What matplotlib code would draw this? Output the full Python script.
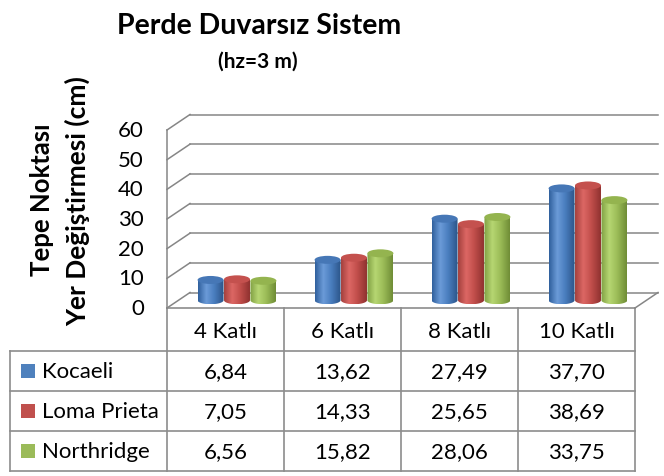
import numpy as np
import matplotlib
matplotlib.use('Agg')
import matplotlib.pyplot as plt
from matplotlib.patches import Ellipse, PathPatch, Rectangle
from matplotlib.path import Path
from matplotlib.colors import LinearSegmentedColormap
import matplotlib.transforms as mtransforms

# ---------------- data ----------------
categories = ['4 Katlı', '6 Katlı', '8 Katlı', '10 Katlı']
series_names = ['Kocaeli', 'Loma Prieta', 'Northridge']
kocaeli = [6.84, 13.62, 27.49, 37.70]
loma_prieta = [7.05, 14.33, 25.65, 38.69]
northridge = [6.56, 15.82, 28.06, 33.75]
y_ticks = [0, 10, 20, 30, 40, 50, 60]
title = 'Perde Duvarsız Sistem'
subtitle = '(hz=3 m)'
ylabel_lines = ['Tepe Noktası', 'Yer Değiştirmesi (cm)']

series = [kocaeli, loma_prieta, northridge]

# ---------------- style ----------------
plt.rcParams['font.family'] = ['Lato', 'DejaVu Sans']
grid_col = '#868686'
table_col = '#8c8c8c'
swatch_cols = ['#4F81BD', '#C0504D', '#9BBB59']
grad_stops = [
    ['#2f5f9c', '#6b9bd8', '#4a7ebf', '#2b5488'],
    ['#a2403d', '#dc6764', '#c24f4c', '#8f312f'],
    ['#7f9f42', '#b6d672', '#9cbd58', '#6f8c36'],
]
top_cols = ['#4677b6', '#c4514e', '#94b44f']

W, H = 664, 477
fig = plt.figure(figsize=(W / 100, H / 100), dpi=100)

pix = fig.add_axes([0, 0, 1, 1])
pix.set_xlim(0, W)
pix.set_ylim(H, 0)
pix.axis('off')

# front plane of the 3D chart
L, R, B, T = 167, 635, 309, 131
ax = fig.add_axes([L / W, 1 - B / H, (R - L) / W, (B - T) / H])
ax.set_xlim(0, len(categories))
ax.set_ylim(0, 60)
ax.axis('off')

DX_PX, DY_PX = 23, 15.5
ddx = DX_PX / (R - L) * len(categories)
ddy = DY_PX / (B - T) * 60

glw = 1.1
# back wall gridlines and left wall slants
for v in y_ticks:
    ax.plot([ddx, len(categories) + ddx], [v + ddy, v + ddy], color=grid_col, lw=glw, clip_on=False, zorder=1)
    ax.plot([0, ddx], [v, v + ddy], color=grid_col, lw=glw, clip_on=False, zorder=1)
ax.plot([0, 0], [0, 60], color=grid_col, lw=glw, clip_on=False, zorder=1)
ax.plot([len(categories), len(categories) + ddx], [0, ddy], color=grid_col, lw=glw, clip_on=False, zorder=1)

# cylinders
cyl_w = 0.222
spacing = 0.226
eh = 8.0 / (B - T) * 60
y0 = ddy / 2
t = np.linspace(np.pi, 2 * np.pi, 50)
grad = np.linspace(0, 1, 256).reshape(1, -1)
for j, vals in enumerate(series):
    cmap = LinearSegmentedColormap.from_list(
        f'c{j}', list(zip([0.0, 0.32, 0.62, 1.0], grad_stops[j])))
    for i, v in enumerate(vals):
        xc = i + 0.5 + (j - 1) * spacing + ddx / 2
        xl, xr = xc - cyl_w / 2, xc + cyl_w / 2
        yt = v + y0
        bottom = np.column_stack([xc + cyl_w / 2 * np.cos(t), y0 + eh / 2 * np.sin(t)])
        verts = [(xl, yt)] + bottom.tolist() + [(xr, yt), (xl, yt)]
        path = Path(verts)
        clip = PathPatch(path, transform=ax.transData, facecolor='none', edgecolor='none')
        im = ax.imshow(grad, cmap=cmap, extent=[xl, xr, y0 - eh / 2, yt], aspect='auto',
                       interpolation='bilinear', zorder=3 + j)
        im.set_clip_path(clip)
        ax.add_patch(Ellipse((xc, yt), cyl_w, eh, facecolor=top_cols[j], edgecolor='none', zorder=3.5 + j))

ax.set_xlim(0, len(categories))
ax.set_ylim(0, 60)

# y tick labels
ytrans = mtransforms.blended_transform_factory(pix.transData, ax.transData)
for v in y_ticks:
    pix.text(144, v, str(v), transform=ytrans, ha='right', va='center', fontsize=16, color='#000000')

# title, subtitle, y label
pix.text(259, 34, title, ha='center', va='baseline', fontsize=20.5, fontweight='bold')
pix.text(258, 62, subtitle, ha='center', va='center', fontsize=15, fontweight='bold')
pix.text(42, 200, ylabel_lines[0], rotation=90, ha='center', va='center', fontsize=18.5, fontweight='bold')
pix.text(78, 201, ylabel_lines[1], rotation=90, ha='center', va='center', fontsize=19, fontweight='bold')

# data table
xtrans = mtransforms.blended_transform_factory(ax.transData, pix.transData)
tlw = 1.2
row_top = 352
row_h = 40
tab_left = 10
tab_bottom = row_top + row_h * len(series)
for i in range(len(categories) + 1):
    pix.plot([i, i], [B, tab_bottom], transform=xtrans, color=table_col, lw=tlw, zorder=2)
pix.plot([L, R], [B, B], color=table_col, lw=tlw)
for r in range(len(series) + 1):
    y = row_top + r * row_h
    pix.plot([tab_left, R], [y, y], color=table_col, lw=tlw)
pix.plot([tab_left, tab_left], [row_top, tab_bottom], color=table_col, lw=tlw)

for i, c in enumerate(categories):
    pix.text(i + 0.5, (B + row_top) / 2 + 2, c, transform=xtrans, ha='center', va='center', fontsize=16)

for r, (name, vals) in enumerate(zip(series_names, series)):
    yc = row_top + r * row_h + row_h / 2
    pix.add_patch(Rectangle((21, yc - 7), 14, 14, facecolor=swatch_cols[r], edgecolor='none'))
    pix.text(42, yc, name, ha='left', va='center', fontsize=16)
    for i, v in enumerate(vals):
        pix.text(i + 0.5, yc, f'{v:.2f}'.replace('.', ','), transform=xtrans,
                 ha='center', va='center', fontsize=16)

fig.savefig('out.png', dpi=100)
